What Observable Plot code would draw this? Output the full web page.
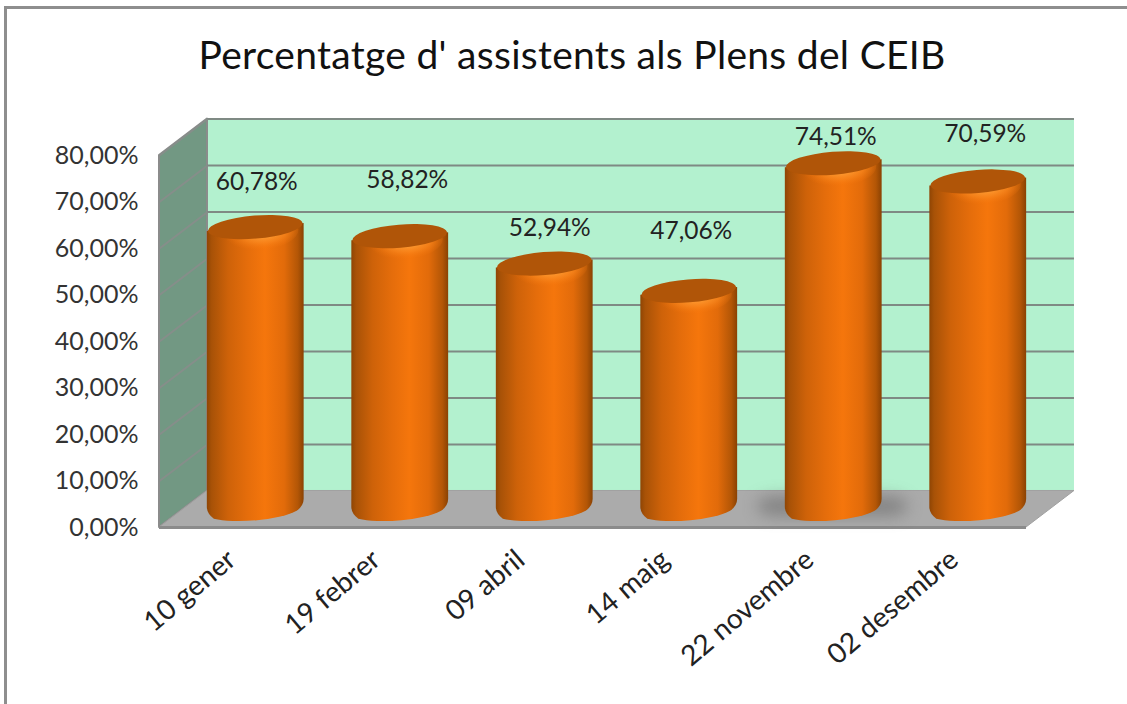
<!DOCTYPE html>
<html>
<head>
<meta charset="utf-8">
<script src="https://cdn.jsdelivr.net/npm/d3@7"></script>
<script src="https://cdn.jsdelivr.net/npm/@observablehq/plot@0.6"></script>
<style>
  html, body { margin: 0; padding: 0; background: #fff; overflow: hidden; }
  #chart { position: relative; width: 1127px; height: 704px; }
  #chart svg { display: block; background: transparent; }
  #border { position: absolute; left: 4px; top: 6px; right: 0; bottom: -4px; border-left: 3px solid #8e8e8e; border-top: 3px solid #8e8e8e; pointer-events: none; }
  .floor-shadow { filter: blur(8px); }
  .chart-title { letter-spacing: 0.3px; }
</style>
</head>
<body>
<div id="chart"><div id="border"></div></div>
<script>
const titleText = "Percentatge d' assistents als Plens del CEIB";
const dates = ["10 gener", "19 febrer", "09 abril", "14 maig", "22 novembre", "02 desembre"];
const values = [60.78, 58.82, 52.94, 47.06, 74.51, 70.59];
const valueLabels = ["60,78%", "58,82%", "52,94%", "47,06%", "74,51%", "70,59%"];
const yTicks = [0, 10, 20, 30, 40, 50, 60, 70, 80];

// presentation
const depthX = 0.332, depthY = 7.85;
const barBase = 3.72;
const barWidth = 0.67;
const labelDx = [1, 7, 5, 2, 2, 7];
const labelDy = [-44, -56, -35, -59, -26, -47];
const font = "Lato, 'Open Sans', sans-serif";

const n = dates.length;
const rows = dates.map((date, i) => ({date, value: values[i], pos: i + 0.5}));
const centre = r => r.pos + depthX / 2;

const defs = () => {
  const g = d3.create("svg:g");
  g.html(`<defs>
    <linearGradient id="cylBody" x1="0" x2="1" y1="0" y2="0">
      <stop offset="0" stop-color="#8f4504"/>
      <stop offset="0.05" stop-color="#a85207"/>
      <stop offset="0.22" stop-color="#ce6209"/>
      <stop offset="0.42" stop-color="#e56d0b"/>
      <stop offset="0.6" stop-color="#f5760c"/>
      <stop offset="0.8" stop-color="#e26b0a"/>
      <stop offset="0.94" stop-color="#b35606"/>
      <stop offset="1" stop-color="#8a4203"/>
    </linearGradient>
    <radialGradient id="cylGlow" cx="0.55" cy="0.5" r="0.5">
      <stop offset="0" stop-color="#ffb04a" stop-opacity="1"/>
      <stop offset="0.6" stop-color="#fb8a20" stop-opacity="0.6"/>
      <stop offset="1" stop-color="#f5760c" stop-opacity="0"/>
    </radialGradient>
  </defs>`);
  return g.node();
};

function cylinders(index, scales, vals, dimensions, context, next) {
  const g = next(index, scales, vals, dimensions, context);
  const {x1, x2, y1, y2} = vals;
  const root = d3.select(g);
  root.selectAll("rect").remove();
  const tilt = -4.7, ry = 11.5, c = 7;
  for (const i of index) {
    const left = Math.min(x1[i], x2[i]), right = Math.max(x1[i], x2[i]);
    const rx = (right - left) / 2, cx = (left + right) / 2;
    const top = y2[i], bottom = y1[i], s = rx * Math.sin(-tilt * Math.PI / 180);
    root.append("path")
      .attr("d", `M${left},${top + s}L${left},${bottom + s - c}Q${left},${bottom + s} ${left + c},${bottom + s + 5}A${rx},${ry} ${tilt} 0 0 ${right - c},${bottom - s + 5}Q${right},${bottom - s} ${right},${bottom - s - c}L${right},${top - s}Z`)
      .attr("fill", "url(#cylBody)");
    root.append("ellipse")
      .attr("cx", cx + 4).attr("cy", top + 6).attr("rx", rx * 0.8).attr("ry", ry + 6)
      .attr("transform", `rotate(${tilt} ${cx} ${top})`)
      .attr("fill", "url(#cylGlow)");
    root.append("ellipse")
      .attr("cx", cx).attr("cy", top).attr("rx", rx - 1).attr("ry", ry)
      .attr("transform", `rotate(${tilt} ${cx} ${top})`)
      .attr("fill", "#b05508");
  }
  return g;
}

const plot = Plot.plot({
  width: 1127,
  height: 704,
  marginLeft: 159,
  marginRight: 101,
  marginTop: 155,
  marginBottom: 177,
  style: {background: "transparent", fontFamily: font},
  x: {type: "linear", domain: [0, n]},
  y: {type: "linear", domain: [0, 80]},
  marks: [
    defs,
    // back wall
    Plot.rect([0], {x1: depthX, x2: n + depthX, y1: depthY, y2: 80 + depthY, fill: "#b3f1cf"}),
    // side wall
    Plot.areaY([{x: 0, a: 0, b: 80}, {x: depthX, a: depthY, b: 80 + depthY}],
      {x: "x", y1: "a", y2: "b", fill: "#729883", stroke: "#8b8b8b", strokeWidth: 2}),
    // floor
    Plot.areaY([{x: 0, a: 0, b: 0}, {x: depthX, a: 0, b: depthY}, {x: n, a: 0, b: depthY}, {x: n + depthX, a: depthY, b: depthY}],
      {x: "x", y1: "a", y2: "b", fill: "#ababab", stroke: "#a0a0a0", strokeWidth: 1}),
    // gridlines
    Plot.ruleY(yTicks.slice(1), {y: d => d + depthY, x1: depthX, x2: n + depthX, stroke: "#7f8a84", strokeWidth: 2}),
    Plot.link(yTicks.slice(1), {x1: 0, x2: depthX, y1: d => d, y2: d => d + depthY, stroke: "#868e8a", strokeWidth: 2}),
    Plot.ruleY([0], {x1: 0, x2: n, stroke: "#8b8b8b", strokeWidth: 3}),
    // floor shadow under the tallest bar
    Plot.rect([rows[4]], {
      x1: r => r.pos - 0.36, x2: r => r.pos + 0.68, y1: 2.5, y2: 6.5,
      fill: "#4a4a4a", fillOpacity: 0.42, rx: 18, className: "floor-shadow"
    }),
    // cylinders
    Plot.rect(rows, {
      x1: r => centre(r) - barWidth / 2,
      x2: r => centre(r) + barWidth / 2,
      y1: barBase,
      y2: r => r.value + barBase,
      fill: "#f5760c",
      render: cylinders
    }),
    // value labels
    ...rows.map((r, i) => Plot.text([r], {
      x: centre, y: d => d.value + depthY / 2,
      text: () => valueLabels[i],
      dx: labelDx[i], dy: labelDy[i],
      fontSize: 24.5, fill: "#222"
    })),
    // axes
    Plot.axisY({
      ticks: yTicks, tickSize: 0, tickPadding: 21, label: null,
      tickFormat: d => d3.format(".2f")(d).replace(".", ",") + "%",
      fontSize: 25, color: "#333", anchor: "left"
    }),
    Plot.axisX({
      ticks: rows.map(r => r.pos), tickSize: 0, tickPadding: 20, label: null,
      tickFormat: d => dates[Math.round(d - 0.5)],
      tickRotate: -40, textAnchor: "end", lineAnchor: "top",
      fontSize: 28, color: "#222", anchor: "bottom", dx: -7
    }),
    // title
    Plot.text([titleText], {
      frameAnchor: "top", dy: -114, dx: -21,
      fontSize: 39, fill: "#111", className: "chart-title"
    })
  ]
});
document.getElementById("chart").prepend(plot);
</script>
</body>
</html>
